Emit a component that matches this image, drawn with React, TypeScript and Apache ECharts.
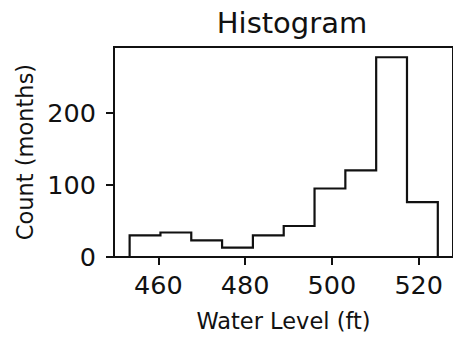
import React, { useEffect, useRef } from "react";
import * as echarts from "echarts";

const binEdges = [453.4, 460.5, 467.6, 474.7, 481.8, 488.9, 496.0, 503.1, 510.2, 517.3, 524.4];
const counts = [30, 34, 23, 13, 30, 43, 95, 120, 277, 76];
const xTicks = [460, 480, 500, 520];
const yTicks = [0, 100, 200];

const FONT = "DejaVu Sans";

export default function App() {
  const ref = useRef<HTMLDivElement>(null);
  useEffect(() => {
    if (!ref.current) return;
    const chart = echarts.init(ref.current, undefined, { renderer: "svg" });
    const pts: number[][] = [[binEdges[0], 0]];
    counts.forEach((c, i) => {
      pts.push([binEdges[i], c]);
      pts.push([binEdges[i + 1], c]);
    });
    pts.push([binEdges[binEdges.length - 1], 0]);
    chart.setOption({
      animation: false,
      backgroundColor: "#fff",
      title: {
        text: "Histogram",
        left: 287,
        textAlign: "center",
        top: 3,
        textStyle: { fontFamily: FONT, fontSize: 29, fontWeight: "normal", color: "#111" },
      },
      grid: {
        left: 114,
        top: 47,
        width: 346,
        height: 212.3,
        show: true,
        borderColor: "#111",
        borderWidth: 2,
        backgroundColor: "transparent",
      },
      xAxis: {
        type: "value",
        min: 449.8,
        max: 527.9,
        name: "Water Level (ft)",
        nameLocation: "middle",
        nameGap: 52,
        nameTextStyle: { fontFamily: FONT, fontSize: 22.5, color: "#111" },
        axisLine: { show: true, onZero: false, lineStyle: { color: "#111", width: 2 } },
        axisTick: { show: true, length: 8, customValues: xTicks, lineStyle: { color: "#111", width: 2 } },
        axisLabel: { customValues: xTicks, margin: 15, fontFamily: FONT, fontSize: 25.5, color: "#111" },
        splitLine: { show: false },
      },
      yAxis: {
        type: "value",
        min: 0,
        max: 291.2,
        name: "Count (months)",
        nameLocation: "middle",
        nameGap: 78,
        nameTextStyle: { fontFamily: FONT, fontSize: 22.5, color: "#111" },
        axisLine: { show: true, onZero: false, lineStyle: { color: "#111", width: 2 } },
        axisTick: { show: true, length: 8, customValues: yTicks, lineStyle: { color: "#111", width: 2 } },
        axisLabel: { customValues: yTicks, margin: 18, fontFamily: FONT, fontSize: 25.5, color: "#111" },
        splitLine: { show: false },
      },
      series: [
        {
          type: "line",
          data: pts,
          symbol: "none",
          lineStyle: { color: "#111", width: 2.2, join: "miter" },
        },
      ],
    });
    return () => chart.dispose();
  }, []);
  return (
    <div
      ref={ref}
      style={{ position: "fixed", left: 0, top: 0, width: 453, height: 337, background: "#fff" }}
    />
  );
}
